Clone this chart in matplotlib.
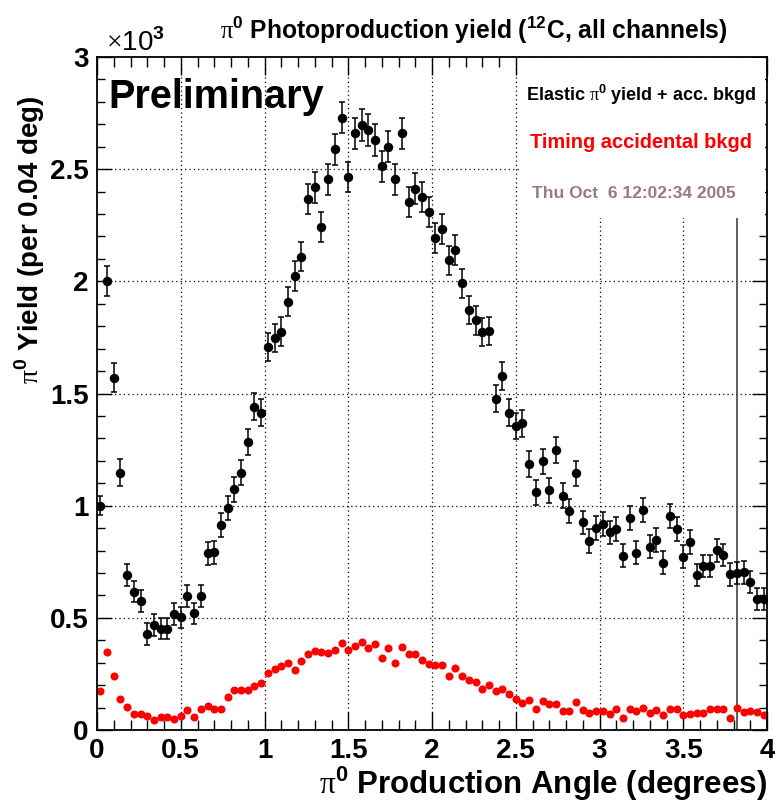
import numpy as np
import matplotlib
matplotlib.use("Agg")
import matplotlib.pyplot as plt
from matplotlib.ticker import MultipleLocator, FuncFormatter
from matplotlib.patches import Rectangle

plt.rcParams['font.family'] = ['Liberation Sans', 'DejaVu Sans']
plt.rcParams['mathtext.fontset'] = 'custom'
plt.rcParams['mathtext.rm'] = 'Liberation Serif'
plt.rcParams['mathtext.sf'] = 'Liberation Sans:bold'
plt.rcParams['mathtext.bf'] = 'Liberation Sans:bold'

# ---------------- data ----------------
bin_width = 0.04
n_bins = 100
x_min, x_max = 0.0, 4.0

yield_total = [1000, 2002, 1571, 1147, 691, 617, 575, 428, 469, 452,
               452, 516, 502, 599, 520, 599, 788, 792, 914, 988,
               1073, 1147, 1284, 1441, 1415, 1709, 1749, 1776, 1910, 2024,
               2110, 2369, 2419, 2241, 2455, 2589, 2730, 2464, 2660, 2697,
               2675, 2630, 2514, 2601, 2455, 2660, 2354, 2413, 2378, 2307,
               2193, 2235, 2094, 2140, 1991, 1872, 1826, 1773, 1780, 1476,
               1578, 1415, 1355, 1367, 1186, 1060, 1197, 1069, 1246, 1045,
               976, 1144, 925, 843, 899, 918, 881, 897, 776, 945,
               791, 981, 817, 847, 746, 955, 897, 773, 838, 691,
               730, 730, 801, 780, 694, 699, 703, 661, 583, 585]

yield_err = [42, 67, 63, 59, 47, 47, 47, 48, 48, 48,
             48, 48, 48, 49, 48, 49, 51, 51, 53, 54,
             55, 57, 58, 60, 59, 62, 62, 63, 64, 65,
             66, 67, 68, 67, 68, 69, 71, 68, 70, 70,
             70, 70, 69, 69, 68, 70, 67, 68, 67, 67,
             66, 67, 65, 66, 64, 64, 63, 63, 63, 60,
             61, 59, 59, 59, 57, 55, 57, 55, 58, 55,
             54, 57, 53, 52, 53, 53, 52, 53, 51, 53,
             51, 54, 52, 52, 50, 53, 53, 51, 52, 50,
             50, 50, 51, 51, 50, 50, 50, 49, 48, 48]

accidental_bkg = [174, 346, 241, 137, 102, 71, 71, 61, 46, 57,
                  57, 49, 61, 88, 57, 95, 106, 92, 92, 147,
                  177, 177, 177, 196, 211, 256, 271, 285, 300, 266,
                  308, 340, 352, 349, 345, 355, 386, 355, 376, 392,
                  366, 385, 322, 367, 299, 371, 337, 339, 312, 294,
                  288, 291, 239, 276, 241, 224, 215, 184, 199, 175,
                  184, 160, 138, 120, 135, 92, 128, 117, 117, 86,
                  86, 123, 89, 74, 86, 85, 70, 92, 52, 92,
                  86, 98, 74, 90, 67, 95, 95, 67, 70, 77,
                  77, 92, 92, 92, 55, 99, 79, 86, 82, 66]

cut_angle = 3.82

title = r"$\mathrm{\pi}^{\mathsf{0}}$ Photoproduction yield ($^{\mathsf{12}}$C, all channels)"
xlabel = r"$\mathrm{\pi}^{\mathsf{0}}$ Production Angle (degrees)"
ylabel = r"$\mathrm{\pi}^{\mathsf{0}}$ Yield (per 0.04 deg)"
legend_lines = [r"Elastic $\mathrm{\pi}^{\mathsf{0}}$ yield + acc. bkgd",
                "Timing accidental bkgd",
                "Thu Oct  6 12:02:34 2005"]

# ---------------- figure ----------------
W, H = 775, 802
fig = plt.figure(figsize=(W / 100, H / 100), dpi=100)
ax = fig.add_axes([97 / W, 1 - 730 / H, (767 - 97) / W, (730 - 57) / H])

centers = x_min + bin_width * (np.arange(n_bins) + 0.5)

ax.errorbar(centers, yield_total, yerr=yield_err, fmt='o', color='black',
            ms=5.8, elinewidth=1.1, capsize=2.5, capthick=1.1, zorder=4)
ax.plot(centers, accidental_bkg, 'o', color='#ff0000', ms=5.8, mec='none', zorder=4)

ax.set_xlim(x_min, x_max)
ax.set_ylim(0, 3000)

# grid at major ticks
for gx in [0.5, 1.0, 1.5, 2.0, 2.5, 3.0, 3.5]:
    ax.axvline(gx, color='black', lw=0.9, ls=(0, (1, 2.5)), zorder=1)
for gy in [500, 1000, 1500, 2000, 2500]:
    ax.axhline(gy, color='black', lw=0.9, ls=(0, (1, 2.5)), zorder=1)

ax.axvline(cut_angle, color='#444444', lw=1.2, zorder=2)

# white label box (covers grid)
ax.add_patch(Rectangle((520 / W, 1 - 218 / H), 245 / W, 160 / H,
                       transform=fig.transFigure, facecolor='white',
                       edgecolor='none', zorder=3))

ax.xaxis.set_major_locator(MultipleLocator(0.5))
ax.xaxis.set_minor_locator(MultipleLocator(0.1))
ax.yaxis.set_major_locator(MultipleLocator(500))
ax.yaxis.set_minor_locator(MultipleLocator(100))

ax.xaxis.set_major_formatter(FuncFormatter(lambda v, p: f"{v:g}"))
ax.yaxis.set_major_formatter(FuncFormatter(lambda v, p: f"{v/1000:g}"))

ax.tick_params(which='both', direction='in', top=True, right=True,
               labelsize=20, width=1.0)
ax.tick_params(axis='x', which='major', length=13, pad=6)
ax.tick_params(axis='x', which='minor', length=7)
ax.tick_params(axis='y', which='major', length=11, pad=6)
ax.tick_params(axis='y', which='minor', length=6)
for lbl in ax.get_xticklabels() + ax.get_yticklabels():
    lbl.set_fontweight('bold')

for s in ax.spines.values():
    s.set_linewidth(1.3)
    s.set_zorder(6)

ax.set_xlabel(xlabel, fontsize=22.5, fontweight='bold', ha='right', x=1.0, labelpad=0)
fig.text(30 / W, 1 - 95 / H, ylabel, fontsize=20, fontweight='bold',
         rotation=90, ha='center', va='top')

fig.text(474 / W, 1 - 30 / H, title, fontsize=17.7, fontweight='bold',
         ha='center', va='center')
fig.text(106 / W, 1 - 43 / H, r"$\times$10$^{\mathsf{3}}$", fontsize=20,
         ha='left', va='center')

ax.text(108 / W, 1 - 97 / H, "Preliminary", transform=fig.transFigure,
        fontsize=28.5, fontweight='bold', ha='left', va='center', zorder=7)

fig.text(641 / W, 1 - 95 / H, legend_lines[0], fontsize=13, fontweight='bold',
         ha='center', va='center', color='black', zorder=8)
fig.text(640.5 / W, 1 - 143 / H, legend_lines[1], fontsize=14.4, fontweight='bold',
         ha='center', va='center', color='#ff0000', zorder=8)
fig.text(634 / W, 1 - 194 / H, legend_lines[2], fontsize=12.5, fontweight='bold',
         ha='center', va='center', color='#9a7a80', zorder=8)

fig.savefig("out.png", dpi=100)
